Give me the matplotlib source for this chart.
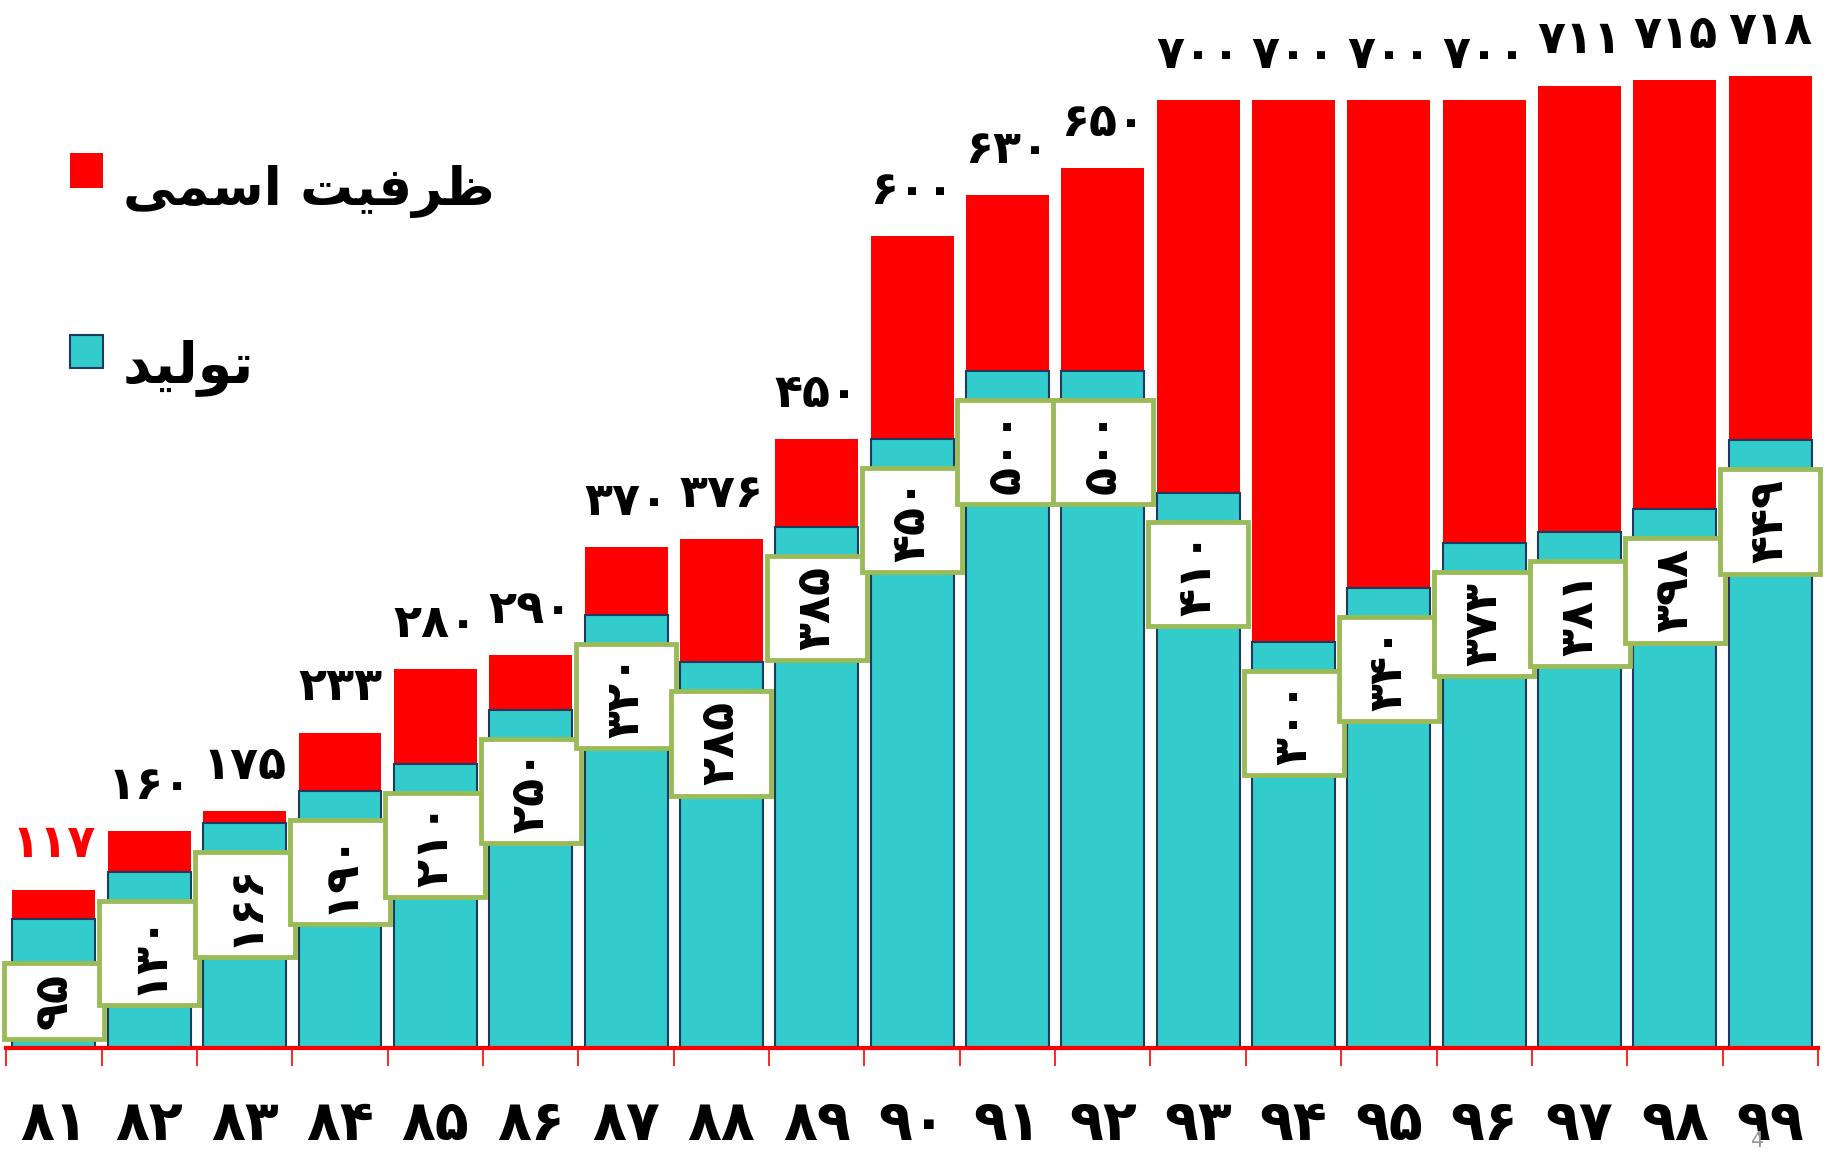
import matplotlib
matplotlib.use('Agg')
import matplotlib.pyplot as plt
from matplotlib.patches import Rectangle
from matplotlib.path import Path

plt.rcParams['font.family'] = ['DejaVu Sans']

# ---- data ----
years = ['۸۱', '۸۲', '۸۳', '۸۴', '۸۵', '۸۶', '۸۷', '۸۸', '۸۹', '۹۰',
         '۹۱', '۹۲', '۹۳', '۹۴', '۹۵', '۹۶', '۹۷', '۹۸', '۹۹']
capacity = [117, 160, 175, 233, 280, 290, 370, 376, 450, 600,
            630, 650, 700, 700, 700, 700, 711, 715, 718]
production = [95, 130, 166, 190, 210, 250, 320, 285, 385, 450,
              500, 500, 410, 300, 340, 373, 381, 398, 449]
# legend labels (logical: 'ظرفیت اسمی' , 'تولید') written in shaped visual order
legend_capacity = '\uFEF0\uFEE4\uFEB3\uFE8D \uFE96\uFEF4\uFED3\uFEAE\uFEC7'
legend_production = '\uFEAA\uFEF4\uFEDF\uFEEE\uFE97'

FA = str.maketrans('0123456789', '۰۱۲۳۴۵۶۷۸۹')
def fa(n):
    return str(n).translate(FA)

RED = '#FF0000'
CYAN = '#33CCCC'
EDGE = '#1F3A5F'
GREEN = '#9BBB59'


def label_box(x0, y0, width, height, mutation_size):
    # small pad along the text direction, larger pad across it
    px = 0.22 * mutation_size
    py = 0.6 * mutation_size
    x0 -= px
    y0 -= py
    width += 2 * px
    height += 2 * py
    return Path([(x0, y0), (x0 + width, y0), (x0 + width, y0 + height),
                 (x0, y0 + height), (x0, y0)], closed=True)


fig = plt.figure(figsize=(18.43, 11.52), dpi=100)
ax = fig.add_axes([0.0034, 0.0903, 0.983, 0.893])

x = list(range(len(years)))
w = 0.87
ax.bar(x, capacity, width=w, color=RED, edgecolor='none', zorder=1)
ax.bar(x, production, width=w, color=CYAN, edgecolor=EDGE, linewidth=1.5, zorder=2)

# capacity labels above bars
for i, v in enumerate(capacity):
    ax.annotate(fa(v), (i, v), xytext=(0, 16), textcoords='offset points',
                ha='center', va='bottom', fontsize=33, fontweight='bold',
                color=RED if i == 0 else 'black', zorder=5)

# production labels in boxes
for i, v in enumerate(production):
    ax.text(i, v - 60, fa(v), rotation=90, rotation_mode='anchor',
            ha='center', va='center', fontsize=33, fontweight='bold', color='black',
            zorder=6,
            bbox=dict(boxstyle=label_box, fc='white', ec=GREEN, lw=3.5))

ax.set_xlim(-0.5, len(years) - 0.5)
ax.set_ylim(0, 760)

for s in ['top', 'right', 'left']:
    ax.spines[s].set_visible(False)
ax.spines['bottom'].set_color(RED)
ax.spines['bottom'].set_linewidth(3)
ax.spines['bottom'].set_zorder(7)
ax.set_yticks([])

ax.set_xticks(x)
ax.set_xticklabels(years, fontsize=40, fontweight='bold')
ax.tick_params(axis='x', which='major', length=0, pad=36)
ax.set_xticks([i - 0.5 for i in range(len(years) + 1)], minor=True)
ax.tick_params(axis='x', which='minor', length=13, width=1.2, color=RED, direction='out')

# legend drawn manually
fig.patches.append(Rectangle((70 / 1843, 1 - 188 / 1152), 33 / 1843, 35 / 1152,
                             transform=fig.transFigure, fc=RED, ec='none'))
fig.patches.append(Rectangle((70 / 1843, 1 - 368 / 1152), 33 / 1843, 33 / 1152,
                             transform=fig.transFigure, fc=CYAN, ec=EDGE, lw=1.5))
fig.text(123 / 1843, 1 - 192 / 1152, legend_capacity, fontsize=38, fontweight='bold',
         ha='left', va='center')
fig.text(123 / 1843, 1 - 368 / 1152, legend_production, fontsize=40, fontweight='bold',
         ha='left', va='center')

fig.text(1758 / 1843, 0.001, '4', fontsize=15, color='#999999', ha='center', va='bottom')

fig.savefig('out.png', dpi=100)
